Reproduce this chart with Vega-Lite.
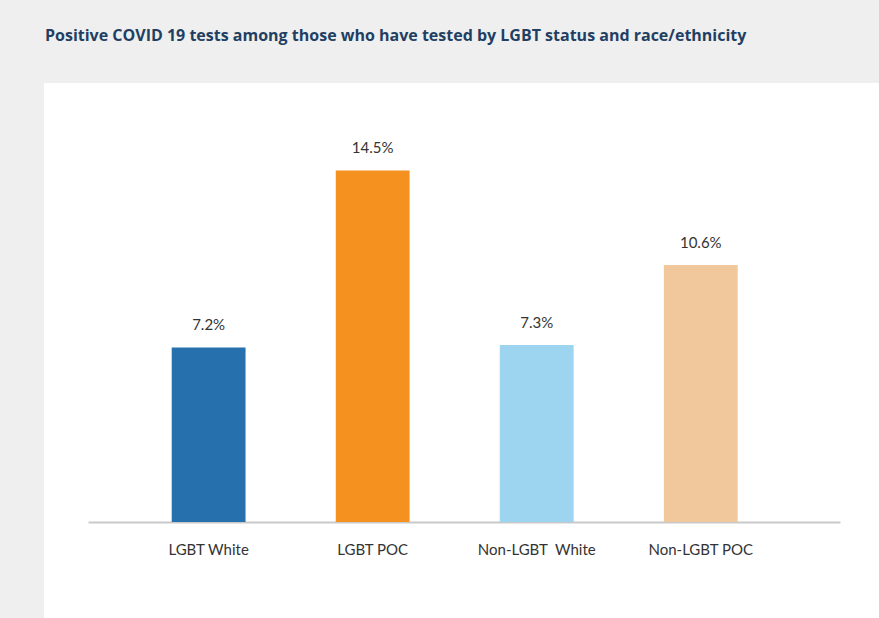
{
  "$schema": "https://vega.github.io/schema/vega-lite/v6.json",
  "autosize": "none",
  "width": 835,
  "height": 535,
  "padding": {"left": 44, "top": 83, "right": 0, "bottom": 0},
  "background": "#efefef",
  "title": {
    "text": "Positive COVID 19 tests among those who have tested by LGBT status and race/ethnicity",
    "anchor": "start",
    "frame": "group",
    "dx": 1,
    "offset": 39,
    "font": "Open Sans",
    "fontSize": 16,
    "fontWeight": "bold",
    "color": "#1f3f63"
  },
  "config": {
    "view": {"fill": "white", "stroke": null},
    "font": "Lato"
  },
  "data": {
    "values": [
      {"group": "LGBT White", "value": 7.2, "label": "7.2%", "color": "#2570ad"},
      {"group": "LGBT POC", "value": 14.5, "label": "14.5%", "color": "#f5921f"},
      {"group": "Non-LGBT\u00a0 White", "value": 7.3, "label": "7.3%", "color": "#9dd4f0"},
      {"group": "Non-LGBT POC", "value": 10.6, "label": "10.6%", "color": "#f0c89b"}
    ]
  },
  "encoding": {
    "x": {
      "field": "group",
      "type": "nominal",
      "sort": null,
      "scale": {"range": [44, 796], "paddingInner": 0.55, "paddingOuter": 0.567, "align": 0.45},
      "axis": {
        "title": null,
        "orient": "bottom",
        "offset": -96,
        "labelAngle": 0,
        "ticks": false,
        "domainColor": "#c9c9c9",
        "domainWidth": 2,
        "labelPadding": 20,
        "labelFontSize": 15,
        "labelColor": "#333333",
        "labelFont": "Lato"
      }
    },
    "y": {
      "field": "value",
      "type": "quantitative",
      "scale": {"domain": [0, 16], "range": [439, 51], "nice": false},
      "axis": null
    }
  },
  "layer": [
    {
      "mark": {"type": "bar"},
      "encoding": {
        "color": {"field": "color", "type": "nominal", "scale": null, "legend": null}
      }
    },
    {
      "mark": {"type": "text", "baseline": "bottom", "dy": -14, "fontSize": 15, "color": "#333333", "font": "Lato"},
      "encoding": {"text": {"field": "label"}}
    }
  ]
}
